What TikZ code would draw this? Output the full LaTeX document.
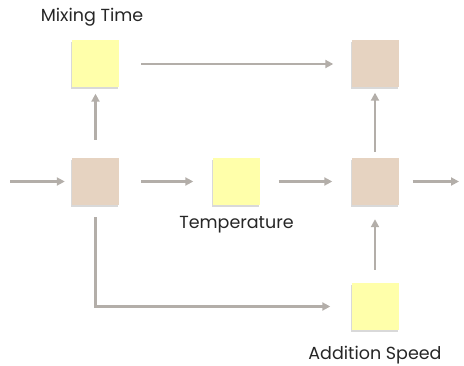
\documentclass[tikz,border=0pt]{standalone}
\usepackage{fontspec}
\setmainfont{Poppins}
\usetikzlibrary{arrows.meta, positioning, shadows}

\definecolor{steptan}{HTML}{E6D3C1}
\definecolor{paramyellow}{HTML}{FFFFAA}
\definecolor{flowgray}{HTML}{B3AEA9}

\tikzset{
  box/.style={minimum size=47pt, inner sep=0pt,
    drop shadow={shadow xshift=-1pt, shadow yshift=-2pt, opacity=0.3}},
  stepbox/.style={box, fill=steptan},
  parambox/.style={box, fill=paramyellow},
  flow/.style={draw=flowgray, line width=2.4pt,
    -{Triangle[length=8pt,width=8pt]}},
  lbl/.style={font=\fontsize{17.5}{20}\selectfont, text=black!85}
}

\begin{document}
\begin{tikzpicture}[x=1pt, y=-1pt]
            \useasboundingbox (0,0) rectangle (464,366);
            % steps and parameters
            \node[parambox] (mix) at (95.5,64) {};
            \node[stepbox] (lft) at (95.5,181.5) {};
            \node[parambox] (temp) at (236,181.5) {};
            \node[stepbox] (top) at (375,64) {};
            \node[stepbox] (rgt) at (375,181.5) {};
            \node[parambox] (add) at (375,306.5) {};
            \coordinate (in) at (10,181.5);
            \coordinate (out) at (459,181.5);
            % labels
            \node[lbl] (mixlbl) at (92,17) {Mixing Time};
            \node[lbl] (templbl) at (236.5,225) {Temperature};
            \node[lbl] (addlbl) at (375,355) {Addition Speed};
            % arrows
            \draw[flow, shorten >=7pt] (in) -- (lft);
            \draw[flow, shorten <=22pt, shorten >=19pt] (lft) -- (temp);
            \draw[flow, shorten <=19pt, shorten >=19pt] (temp) -- (rgt);
            \draw[flow, shorten <=14pt] (rgt) -- (out);
            \draw[flow, shorten <=18pt, shorten >=6pt] (lft) -- (mix);
            \draw[flow, shorten <=22pt, shorten >=18pt] (mix) -- (top);
            \draw[flow, shorten <=6pt, shorten >=5pt] (rgt) -- (top);
            \draw[flow, shorten <=13pt, shorten >=14pt] (add) -- (rgt);
            \draw[flow, shorten <=12pt, shorten >=21pt] (lft.south) |- (add.west);
        \end{tikzpicture}
\end{document}
